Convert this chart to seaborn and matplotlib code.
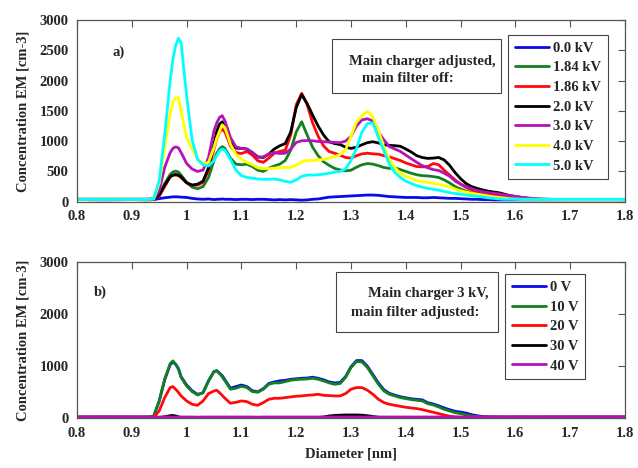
import matplotlib
matplotlib.use("Agg")
import matplotlib.pyplot as plt
import numpy as np
import pandas as pd
import seaborn as sns
from matplotlib.patches import Rectangle

# ---------------------------------------------------------------------------
# Mobility diameter grid [nm] (rows grouped the same way in every series)
# ---------------------------------------------------------------------------
diameter = [
    0.80, 0.85, 0.90, 0.93,
    0.94, 0.95, 0.96, 0.97, 0.975, 0.98, 0.985, 0.99,
    1.00, 1.01, 1.02, 1.03, 1.04, 1.05, 1.055, 1.06, 1.065, 1.07, 1.08, 1.09,
    1.10, 1.11, 1.12, 1.13, 1.14, 1.15, 1.16, 1.17, 1.18, 1.19,
    1.20, 1.21, 1.22, 1.23, 1.24, 1.25, 1.26, 1.27, 1.28, 1.29,
    1.30, 1.31, 1.32, 1.33, 1.34, 1.35, 1.36, 1.37, 1.38, 1.39,
    1.40, 1.41, 1.42, 1.43, 1.44, 1.45, 1.46, 1.47, 1.48, 1.49,
    1.50, 1.51, 1.52, 1.53, 1.54, 1.55, 1.56, 1.57, 1.58, 1.59,
    1.60, 1.61, 1.62, 1.63, 1.64, 1.65, 1.70, 1.75, 1.80,
]

# ---- a) main charger voltage scan, main filter off [cm-3] ----------------
charger_labels = ["0.0 kV", "1.84 kV", "1.86 kV", "2.0 kV", "3.0 kV", "4.0 kV", "5.0 kV"]
charger_colors = ["#0a0ae6", "#14801e", "#ff0a0a", "#000000", "#b414b4", "#ffff00", "#00ffff"]

conc_0_0kV = [
    35, 30, 35, 30,
    35, 50, 65, 75, 80, 80, 80, 75,
    70, 55, 45, 40, 45, 35, 40, 40, 45, 40, 40, 35,
    40, 40, 35, 40, 40, 35, 30, 35, 30, 35,
    30, 25, 30, 40, 45, 60, 75, 80, 85, 90,
    95, 100, 105, 110, 110, 105, 95, 85, 80, 75,
    70, 70, 70, 65, 65, 70, 65, 60, 55, 55,
    50, 45, 40, 40, 35, 35, 30, 30, 30, 30,
    30, 30, 30, 30, 30, 30, 30, 30, 30,
]
conc_1_84kV = [
    40, 40, 40, 40,
    45, 100, 300, 450, 490, 505, 490, 440,
    320, 240, 215, 250, 400, 680, 800, 870, 910, 880, 720, 620,
    610, 620, 580, 520, 500, 550, 590, 620, 680, 850,
    1150, 1320, 1100, 900, 760, 660, 600, 550, 525, 510,
    520, 570, 610, 630, 620, 595, 565, 550, 560, 530,
    500, 470, 445, 430, 425, 415, 400, 360, 310, 250,
    210, 175, 150, 130, 115, 100, 90, 80, 70, 60,
    50, 45, 40, 40, 40, 40, 35, 35, 35,
]
conc_1_86kV = [
    40, 40, 40, 40,
    45, 90, 250, 410, 435, 440, 430, 395,
    310, 270, 275, 320, 520, 870, 1040, 1150, 1200, 1150, 920, 810,
    795, 830, 770, 675, 650, 720, 800, 830, 850, 1100,
    1600, 1790, 1600, 1300, 1080, 920, 830, 800, 770, 730,
    720, 760, 790, 800, 790, 785, 760, 740, 710, 680,
    640, 610, 580, 575, 580, 630, 610, 520, 440, 360,
    290, 235, 195, 165, 140, 125, 110, 95, 85, 75,
    65, 55, 45, 40, 40, 40, 35, 35, 35,
]
conc_2_0kV = [
    35, 35, 35, 35,
    40, 110, 275, 410, 440, 450, 440, 412,
    313, 275, 290, 340, 560, 950, 1160, 1280, 1320, 1230, 980, 885,
    880, 870, 812, 740, 730, 786, 870, 923, 960, 1150,
    1550, 1770, 1620, 1430, 1250, 1100, 990, 960, 945, 900,
    880, 900, 940, 975, 990, 970, 940, 930, 925, 915,
    870, 820, 760, 730, 715, 720, 730, 690, 600, 480,
    380, 300, 250, 220, 195, 175, 160, 148, 125, 100,
    85, 70, 60, 50, 45, 40, 35, 35, 35,
]
conc_3_0kV = [
    40, 40, 40, 40,
    45, 180, 565, 810, 880, 905, 890, 812,
    632, 540, 500, 522, 730, 1170, 1300, 1390, 1420, 1335, 1060, 906,
    879, 870, 812, 730, 741, 786, 812, 795, 800, 868,
    978, 1006, 1010, 1005, 995, 990, 985, 978, 975, 1000,
    1080, 1250, 1350, 1370, 1330, 1150, 1020, 910, 870, 830,
    770, 710, 650, 595, 560, 530, 515, 470, 420, 340,
    290, 250, 215, 185, 165, 150, 140, 130, 115, 100,
    90, 75, 65, 55, 45, 40, 35, 35, 35,
]
conc_4_0kV = [
    40, 40, 40, 40,
    45, 300, 900, 1450, 1650, 1710, 1720, 1500,
    1060, 868, 703, 632, 648, 895, 1050, 1160, 1270, 1220, 950, 780,
    700, 650, 610, 560, 545, 545, 555, 560, 565, 570,
    600, 660, 680, 680, 690, 700, 720, 745, 780, 850,
    1080, 1320, 1420, 1490, 1400, 1180, 900, 700, 560, 470,
    420, 380, 350, 330, 320, 300, 285, 270, 240, 210,
    180, 160, 140, 125, 110, 95, 80, 70, 60, 50,
    45, 40, 40, 40, 40, 40, 35, 35, 35,
]
conc_5_0kV = [
    40, 40, 40, 40,
    50, 350, 1100, 2000, 2350, 2580, 2700, 2620,
    1750, 1020, 700, 610, 590, 680, 760, 840, 870, 850, 700, 520,
    430, 400, 390, 375, 370, 370, 375, 360, 335, 320,
    360, 420, 440, 440, 445, 455, 470, 490, 500, 540,
    680, 880, 1150, 1290, 1300, 1060, 840, 620, 480, 400,
    340, 300, 265, 240, 220, 205, 190, 170, 150, 135,
    125, 110, 100, 90, 80, 65, 55, 45, 40, 40,
    40, 40, 40, 40, 40, 40, 40, 40, 40,
]

# ---- b) main filter voltage scan, main charger at 3 kV [cm-3] ------------
filter_labels = ["0 V", "10 V", "20 V", "30 V", "40 V"]
filter_colors = ["#0a0ae6", "#14801e", "#ff0a0a", "#000000", "#b414b4"]

conc_0V = [
    25, 25, 25, 25,
    40, 330, 740, 1030, 1080, 1040, 960, 800,
    640, 530, 460, 490, 720, 900, 915, 870, 820, 740, 580, 610,
    640, 610, 530, 510, 570, 670, 700, 720, 730, 750,
    760, 770, 775, 790, 770, 740, 700, 680, 690, 800,
    990, 1110, 1110, 1000, 840, 680, 550, 480, 445, 415,
    395, 375, 365, 355, 300, 275, 240, 200, 165, 135,
    120, 100, 70, 50, 35, 30, 28, 25, 25, 25,
    25, 25, 25, 25, 25, 25, 25, 25, 25,
]
conc_10V = [
    25, 25, 25, 25,
    45, 334, 751, 1053, 1104, 1040, 950, 783,
    623, 514, 449, 494, 719, 899, 912, 860, 800, 719, 559, 578,
    616, 591, 514, 501, 559, 655, 681, 681, 706, 732,
    745, 751, 757, 770, 751, 719, 681, 655, 668, 783,
    976, 1091, 1085, 976, 815, 655, 526, 462, 430, 398,
    379, 360, 347, 334, 282, 257, 218, 173, 141, 109,
    90, 64, 45, 32, 26, 25, 25, 25, 25, 25,
    25, 25, 25, 25, 25, 25, 25, 25, 25,
]
conc_20V = [
    20, 20, 20, 20,
    20, 141, 398, 591, 610, 559, 500, 430,
    334, 270, 250, 334, 475, 526, 539, 494, 440, 385, 289, 308,
    334, 321, 270, 250, 302, 366, 385, 385, 398, 411,
    424, 430, 443, 449, 462, 443, 437, 430, 430, 475,
    559, 591, 591, 539, 462, 366, 302, 270, 250, 231,
    212, 199, 186, 167, 141, 116, 90, 64, 39, 26,
    20, 20, 20, 20, 20, 20, 20, 20, 20, 20,
    20, 20, 20, 20, 20, 20, 20, 20, 20,
]
conc_30V = [
    5, 5, 5, 5,
    5, 10, 30, 50, 55, 45, 30, 15,
    10, 5, 5, 5, 5, 5, 5, 5, 5, 5, 5, 5,
    5, 5, 5, 5, 5, 5, 5, 5, 5, 5,
    5, 5, 10, 10, 15, 25, 45, 55, 60, 64,
    64, 64, 60, 50, 35, 20, 10, 5, 5, 5,
    5, 5, 5, 5, 5, 5, 5, 5, 5, 5,
    5, 5, 5, 5, 5, 5, 5, 5, 5, 5,
    5, 5, 5, 5, 5, 5, 5, 5, 5,
]
conc_40V = [
    25, 28, 25, 25,
    25, 25, 28, 25, 25, 25, 25, 25,
    25, 25, 22, 25, 25, 25, 25, 25, 25, 25, 25, 25,
    25, 25, 25, 22, 25, 25, 25, 25, 25, 25,
    25, 25, 25, 25, 25, 25, 25, 25, 25, 25,
    25, 25, 25, 25, 25, 25, 25, 25, 25, 25,
    25, 25, 25, 25, 25, 25, 25, 25, 25, 25,
    25, 25, 25, 25, 25, 25, 28, 25, 25, 25,
    25, 28, 25, 25, 25, 25, 28, 28, 25,
]

x_ticks = [0.8, 0.9, 1.0, 1.1, 1.2, 1.3, 1.4, 1.5, 1.6, 1.7, 1.8]
x_tick_labels = ["0.8", "0.9", "1", "1.1", "1.2", "1.3", "1.4", "1.5", "1.6", "1.7", "1.8"]
y_ticks_a = [0, 500, 1000, 1500, 2000, 2500, 3000]
y_ticks_b = [0, 1000, 2000, 3000]


def long_table(labels, series):
    frames = []
    for lab, vals in zip(labels, series):
        frames.append(pd.DataFrame({"diameter": diameter, "conc": vals, "setting": lab}))
    return pd.concat(frames, ignore_index=True)


df_a = long_table(charger_labels, [conc_0_0kV, conc_1_84kV, conc_1_86kV, conc_2_0kV,
                                   conc_3_0kV, conc_4_0kV, conc_5_0kV])
df_b = long_table(filter_labels, [conc_0V, conc_10V, conc_20V, conc_30V, conc_40V])

sns.set_theme(style="white")
plt.rcParams["font.family"] = ["Liberation Serif", "DejaVu Serif"]
plt.rcParams["font.weight"] = "bold"
plt.rcParams["axes.labelweight"] = "bold"
plt.rcParams["font.size"] = 10.5

FW, FH = 638, 468
fig = plt.figure(figsize=(FW / 100, FH / 100), dpi=100)
fig.patch.set_facecolor("white")
ax_a = fig.add_axes([77 / FW, 1 - 201.7 / FH, 548 / FW, 181.7 / FH])
ax_b = fig.add_axes([77 / FW, 1 - 418.3 / FH, 548 / FW, 156 / FH])

spine_grey = "#555555"


def draw_panel(ax, df, labels, colors, yticks, leg_anchor, box, line1, line2, tag, tag_pos):
    sns.lineplot(data=df, x="diameter", y="conc", hue="setting", hue_order=labels,
                 palette=dict(zip(labels, colors)), estimator=None, sort=True,
                 linewidth=2.0, legend=False, ax=ax)
    ax.set_xlim(0.8, 1.8)
    ax.set_ylim(0, 3000)
    ax.set_xticks(x_ticks)
    ax.set_xticklabels(x_tick_labels)
    ax.set_yticks(yticks)
    ax.set_yticklabels([str(v) for v in yticks])
    ax.tick_params(direction="in", top=True, right=True, length=5, width=0.8,
                   color=spine_grey, labelsize=10.5, pad=6)
    for sp in ax.spines.values():
        sp.set_color(spine_grey)
        sp.set_linewidth(0.9)
    ax.set_xlabel("")
    ax.set_ylabel("Concentration EM [cm-3]", fontsize=10.5, fontweight="bold", labelpad=7)

    handles = ax.get_lines()[:len(labels)]
    leg = ax.legend(handles, labels, loc="upper left", bbox_to_anchor=leg_anchor,
                    borderaxespad=0, frameon=True, fancybox=False, framealpha=1,
                    edgecolor="#444444", handlelength=2.35, handletextpad=0.3,
                    labelspacing=0.44, borderpad=0.45,
                    prop={"family": ["Liberation Serif"], "weight": "bold", "size": 10.5})
    leg.get_frame().set_linewidth(0.8)
    for ln in leg.get_lines():
        ln.set_linewidth(2.0)

    x0, y0, x1, y1 = box
    ax.add_patch(Rectangle((x0, y0), x1 - x0, y1 - y0, transform=ax.transAxes,
                           facecolor="white", edgecolor="#444444", linewidth=0.8, zorder=5))
    ax.text(line1[0], line1[1], line1[2], transform=ax.transAxes, ha="right", va="center",
            fontsize=10.5, fontweight="bold", zorder=6)
    ax.text(line2[0], line2[1], line2[2], transform=ax.transAxes, ha="left", va="center",
            fontsize=10.5, fontweight="bold", zorder=6)
    ax.text(tag_pos[0], tag_pos[1], tag, transform=ax.transAxes, ha="center", va="center",
            fontsize=10.5, fontweight="bold")


draw_panel(ax_a, df_a, charger_labels, charger_colors, y_ticks_a,
           leg_anchor=(0.7865, 0.9175),
           box=(0.4653, 0.598, 0.7737, 0.8954),
           line1=(0.7628, 0.774, "Main charger adjusted,"),
           line2=(0.5201, 0.679, "main filter off:"),
           tag="a)", tag_pos=(0.0766, 0.824))

draw_panel(ax_b, df_b, filter_labels, filter_colors, y_ticks_b,
           leg_anchor=(0.781, 0.923),
           box=(0.4721, 0.555, 0.7688, 0.940),
           line1=(0.7505, 0.797, "Main charger 3 kV,"),
           line2=(0.4995, 0.677, "main filter adjusted:"),
           tag="b)", tag_pos=(0.042, 0.81))

ax_b.set_xlabel("Diameter [nm]", fontsize=10.5, fontweight="bold", labelpad=6)

fig.savefig("out.png", dpi=100, facecolor="white")
